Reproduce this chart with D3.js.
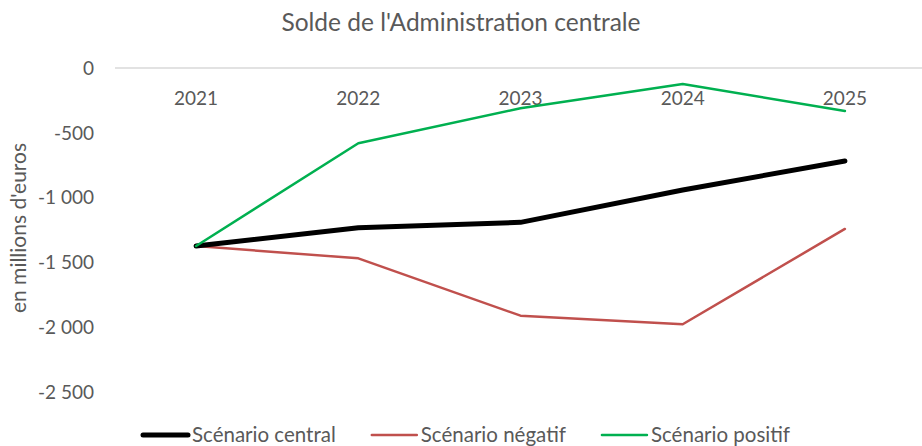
<!DOCTYPE html>
<html>
<head>
<meta charset="utf-8">
<script src="https://cdn.jsdelivr.net/npm/d3@7"></script>
<style>
  body { margin: 0; background: #fff; }
  text { font-family: Lato, "Open Sans", sans-serif; fill: #595959; }
</style>
</head>
<body>
<svg id="chart" width="922" height="446"></svg>
<script>
// données (millions d'euros)
const years = ["2021", "2022", "2023", "2024", "2025"];
const central = [-1375, -1233, -1192, -942, -718];
const negatif = [-1375, -1470, -1913, -1979, -1243];
const positif = [-1375, -581, -311, -124, -332];
const yTicks = [0, -500, -1000, -1500, -2000, -2500];

const series = [
  { name: "Scénario central", values: central, color: "#000000", width: 5 },
  { name: "Scénario négatif", values: negatif, color: "#C0504D", width: 2.5 },
  { name: "Scénario positif", values: positif, color: "#00B050", width: 2.5 }
];

init();
function init(){
  let svg = d3.select("#chart");
  let width = 922, height = 446;

  let x = d3.scaleBand().domain(years).range([115, 926]).paddingInner(0).paddingOuter(0);
  let y = d3.scaleLinear().domain([-2500, 0]).range([391.7, 68]);
  let fr = d3.formatLocale({ decimal: ",", thousands: "\u00a0", grouping: [3], currency: ["", " €"], minus: "-" });
  let fmt = fr.format(",d");

  //titre
  svg.append("text")
    .attr("x", 461).attr("y", 31)
    .attr("text-anchor", "middle")
    .style("font-size", "24.5px")
    .text("Solde de l'Administration centrale");

  //titre axe y
  svg.append("text")
    .attr("transform", "translate(26," + 228 + ") rotate(-90)")
    .attr("text-anchor", "middle")
    .style("font-size", "21px")
    .text("en millions d'euros");

  //ligne du zéro
  svg.append("line")
    .attr("x1", 115).attr("x2", width)
    .attr("y1", y(0)).attr("y2", y(0))
    .attr("stroke", "#D9D9D9").attr("stroke-width", 1.5);

  //étiquettes axe y
  svg.append("g").selectAll("text")
    .data(yTicks).enter().append("text")
    .attr("x", 94).attr("y", d => y(d))
    .attr("dy", "0.36em")
    .attr("text-anchor", "end")
    .style("font-size", "19px")
    .text(d => fmt(d));

  //catégories (en haut, sous la ligne du zéro)
  svg.append("g").selectAll("text")
    .data(years).enter().append("text")
    .attr("x", d => x(d) + x.bandwidth() / 2)
    .attr("y", 105)
    .attr("text-anchor", "middle")
    .style("font-size", "19px")
    .text(d => d);

  let line = d3.line()
    .x((d, i) => x(years[i]) + x.bandwidth() / 2)
    .y(d => y(d));

  // ordre de tracé : négatif, central, positif
  [series[1], series[0], series[2]].forEach(s => {
    svg.append("path")
      .attr("d", line(s.values))
      .attr("fill", "none")
      .attr("stroke", s.color)
      .attr("stroke-width", s.width)
      .attr("stroke-linejoin", "round")
      .attr("stroke-linecap", "round");
  });

  //légende
  let leg = svg.append("g");
  let cx = 143;
  series.forEach(s => {
    leg.append("line")
      .attr("x1", cx).attr("x2", cx + 45)
      .attr("y1", 435).attr("y2", 435)
      .attr("stroke", s.color).attr("stroke-width", s.width)
      .attr("stroke-linecap", "round");
    let t = leg.append("text")
      .attr("x", cx + 49).attr("y", 442)
      .style("font-size", "20.5px")
      .text(s.name);
    cx = cx + 49 + t.node().getComputedTextLength() + 36;
  });
}
</script>
</body>
</html>
